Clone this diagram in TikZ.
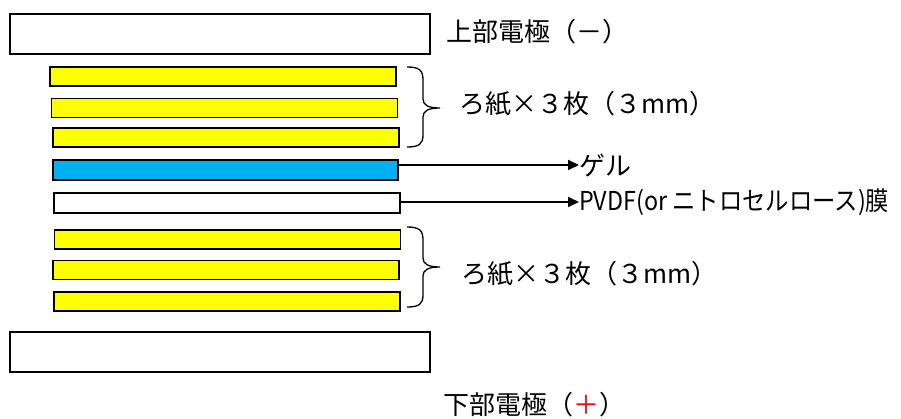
\documentclass[tikz,border=0pt]{standalone}
\usepackage{fontspec}
\usepackage{graphicx}
\setmainfont{Noto Sans CJK JP}
\usetikzlibrary{arrows.meta}
\definecolor{paper}{RGB}{255,255,0}
\definecolor{gelblue}{RGB}{0,176,240}
\begin{document}
\begin{tikzpicture}[x=1pt,y=-1pt,
  layer/.style={draw=black,line width=1.6pt,inner sep=0pt,outer sep=0pt,rectangle},
  electrode/.style={layer,fill=white,minimum width=420pt,minimum height=40pt},
  filter/.style={layer,fill=paper,minimum width=346pt,minimum height=19pt},
  lbl/.style={anchor=west,inner sep=0pt,font=\fontsize{26}{30}\selectfont},
  brace/.style={draw=black,line width=1.3pt},
  arr/.style={draw=black,line width=1.8pt,-{Triangle[length=11pt,width=10pt]}}]
\useasboundingbox (0,0) rectangle (901,418);
\fill[white] (0,0) rectangle (901,418);
% electrodes
\node[electrode] (top) at (220,34) {};
\node[electrode] (bot) at (220,352) {};
% upper filter papers
\node[filter] (f1) at (223,76.5) {};
\node[filter] (f2) at (224.5,108) {};
\node[filter] (f3) at (226,137.5) {};
% gel and membrane
\node[layer,fill=gelblue,minimum width=345pt,minimum height=20pt] (gel) at (225.5,170) {};
\node[layer,fill=white,minimum width=346pt,minimum height=20pt] (mem) at (227,203) {};
% lower filter papers
\node[filter] (f4) at (227.5,239.5) {};
\node[filter] (f5) at (226,270) {};
\node[filter] (f6) at (227,301.5) {};
% braces
\coordinate (b1t) at (407,67);
\coordinate (b1m) at (440,108);
\coordinate (b1b) at (407,147);
\draw[brace] (b1t) .. controls (419,67) and (423,70) .. (423,80) -- (423,99)
  .. controls (423,105) and (428,108) .. (b1m)
  .. controls (428,108) and (423,111) .. (423,117) -- (423,135)
  .. controls (423,144) and (419,147) .. (b1b);
\coordinate (b2t) at (407,227);
\coordinate (b2m) at (440,267);
\coordinate (b2b) at (407,307);
\draw[brace] (b2t) .. controls (419,227) and (423,230) .. (423,240) -- (423,258)
  .. controls (423,264) and (428,267) .. (b2m)
  .. controls (428,267) and (423,270) .. (423,276) -- (423,295)
  .. controls (423,304) and (419,307) .. (b2b);
% labels
\node[lbl] (ltop) at (446,32) {上部電極（－）};
\node[lbl] (lbot) at (443,405) {下部電極（\textcolor{red}{＋}）};
\node[lbl] (lp1) at (459,104) {ろ紙×３枚（３mm）};
\node[lbl] (lp2) at (461,274) {ろ紙×３枚（３mm）};
\node[lbl] (lgel) at (579,165) {ゲル};
\node[lbl] (lmem) at (579,202) {\resizebox{310pt}{\height}{PVDF(or ニトロセルロース)膜}};
% arrows
\draw[arr] (gel.east |- lgel.west) -- (lgel.west);
\draw[arr] (mem.east |- lmem.west) -- (lmem.west);
\end{tikzpicture}
\end{document}
